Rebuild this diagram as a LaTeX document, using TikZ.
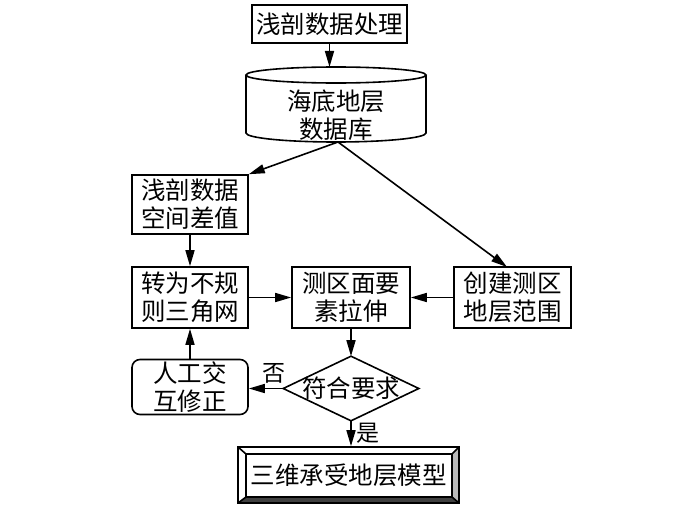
\documentclass[tikz,border=0pt]{standalone}
\usepackage{fontspec}
\newfontfamily\cjk{Noto Sans CJK SC}
\usetikzlibrary{arrows.meta}
\begin{document}
\begin{tikzpicture}[x=1pt,y=-1pt, line width=1.6pt,
  >={Triangle[length=16pt,width=9pt]},
  txt/.style={inner sep=0pt, align=center, font=\cjk\fontsize{24.5}{28}\selectfont},
  box/.style={txt, draw, rectangle},
  lbl/.style={inner sep=0pt, font=\cjk\fontsize{23}{26}\selectfont}]
\useasboundingbox (0,0) rectangle (700,511);
% top box
\node[box, minimum width=155pt, minimum height=38pt] (top) at (329.5,24) {浅剖数据处理};
% cylinder
\node[txt] (cyl) at (336,115) {海底地层\\数据库};
\draw (336,75) ellipse [x radius=90, y radius=8];
\draw (246,75) -- (246,133) arc[start angle=180, end angle=0, x radius=90, y radius=9] -- (426,75);
\coordinate (cyltop) at (329.5,67);
\coordinate (cylbot) at (338,142);
% boxes
\node[box, minimum width=116pt, minimum height=59pt] (A) at (190,204.5) {浅剖数据\\空间差值};
\node[box, minimum width=116pt, minimum height=61pt] (B1) at (190,297.5) {转为不规\\则三角网};
\node[box, minimum width=118pt, minimum height=61pt] (B2) at (351,297.5) {测区面要\\素拉伸};
\node[box, minimum width=117pt, minimum height=61pt] (B3) at (512.5,297.5) {创建测区\\地层范围};
\coordinate (b3t) at (507,267);
\node[box, rounded corners=8pt, minimum width=116pt, minimum height=55pt] (M) at (190,387) {人工交\\互修正};
% diamond
\node[txt, minimum width=134pt, minimum height=63pt] (D) at (351,388.5) {符合要求};
\draw (D.north) -- (D.east) -- (D.south) -- (D.west) -- cycle;
% final box
\node[txt, minimum width=221pt, minimum height=56pt] (F) at (348.5,475) {三维承受地层模型};
\fill[gray!55] (459,447) -- (459,503) -- (452,497) -- (452,454) -- cycle;
\fill[black!75] (238,503) -- (459,503) -- (452,497) -- (246,497) -- cycle;
\draw (238,447) rectangle (459,503);
\draw (246,454) rectangle (452,497);
\draw (238,447) -- (246,454) (459,447) -- (452,454) (238,503) -- (246,497) (459,503) -- (452,497);
% connectors
\draw[->] (top) -- (cyltop);
\draw[->] (cylbot) -- (A.north east);
\draw[->] (cylbot) -- (b3t);
\draw[->] (A) -- (B1);
\draw[->] (B1) -- (B2);
\draw[->] (B3) -- (B2);
\draw[->] (B2.south) -- (D.north);
\draw[->] (D.west) -- (M.east |- D.west) node[lbl, pos=.28, above=4pt] {否};
\draw[->] (M) -- (B1);
\draw[->] (D.south) -- (D.south |- F.north) node[lbl, midway, right=5pt] {是};
\end{tikzpicture}
\end{document}
